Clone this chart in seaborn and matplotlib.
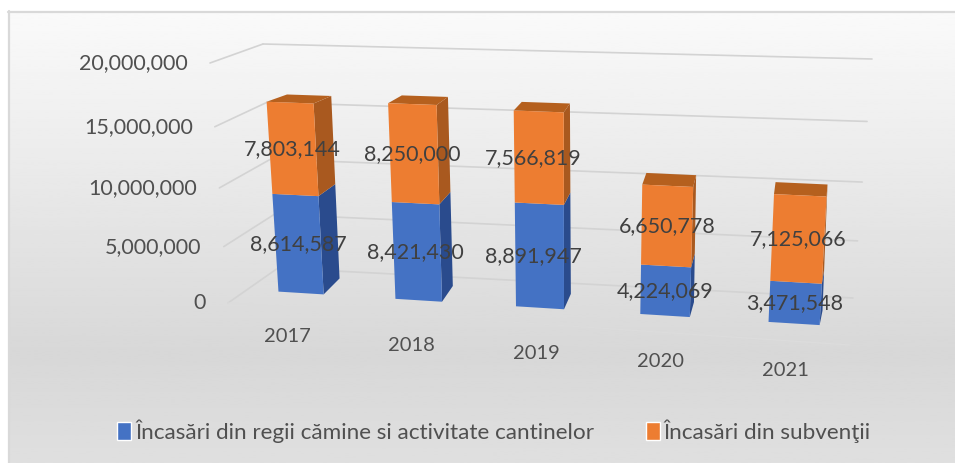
import numpy as np
import pandas as pd
import matplotlib
matplotlib.use("Agg")
import matplotlib.pyplot as plt
import seaborn as sns
from matplotlib.patches import Patch, Polygon
from matplotlib.transforms import Affine2D, Transform

years = ["2017", "2018", "2019", "2020", "2021"]
regii = [8614587, 8421430, 8891947, 4224069, 3471548]
subventii = [7803144, 8250000, 7566819, 6650778, 7125066]
y_ticks = [0, 5000000, 10000000, 15000000, 20000000]
legend_labels = ["Încasări din regii cămine si activitate cantinelor", "Încasări din subvenţii"]

BLUE, ORANGE = "#4472C4", "#ED7D31"
BLUE_SIDE, ORANGE_SIDE, ORANGE_TOP = "#2A4B8D", "#A9591F", "#B5601E"
TEXT, TEXT_SOFT = "#404040", "#505050"
BAR_WIDTH = 0.39
W, H = 955, 463


class Plane(Transform):
    """Perspective view of one flat plane of the chart, (category, value) to pixels."""

    input_dims = 2
    output_dims = 2
    is_separable = False

    def __init__(self, points, pixels):
        super().__init__()
        rows, target = [], []
        for (x, v), (px, py) in zip(points, pixels):
            v = v / 1e6
            rows.append([x, v, 1, 0, 0, 0, -px * x, -px * v])
            rows.append([0, 0, 0, x, v, 1, -py * x, -py * v])
            target += [px, py]
        self.h = np.append(np.linalg.solve(np.array(rows), np.array(target)), 1).reshape(3, 3)

    def transform_non_affine(self, values):
        values = np.asarray(values, dtype=float)
        full = np.column_stack([values[:, 0], values[:, 1] / 1e6, np.ones(len(values))])
        out = full @ self.h.T
        return out[:, :2] / out[:, 2:]


def corners(left, right):
    return [(left, 0), (left, 2e7), (right, 0), (right, 2e7)]


# pixels run downwards in the reference, flip them for the display
to_display = Affine2D().scale(1, -1).translate(0, H)

front = Plane(corners(0, 4), [(301, 293), (287.5, 59), (794, 323.5), (806, 75.5)])
back = Plane(corners(0, 4), [(318, 277), (307, 54), (797, 309), (805.5, 67)])
wall = Plane(corners(-0.5, 4.5), [(278, 268), (263, 44), (853, 298), (872, 59)])
edge = Plane(corners(-0.5, 4.5), [(228, 303), (210, 63), (850, 345), (885, 110)])
year_row = Plane(corners(0, 4), [(287, 337), (287, 237), (785, 370), (785, 270)])

sns.set_theme(style="white")
plt.rcParams["font.family"] = ["Lato", "DejaVu Sans"]

fig = plt.figure(figsize=(W / 100, H / 100), dpi=100, facecolor="white")

# background of the chart area, light at the top, darker near the legend
bg = fig.add_axes([9 / W, 0, 1 - 9 / W, 1 - 12 / H])
bg.imshow(np.interp(np.linspace(0, 1, 200), [0, 0.76, 1], [0.98, 0.845, 0.875]).reshape(-1, 1),
          cmap="gray", vmin=0, vmax=1, aspect="auto")
bg.set_axis_off()
fig.add_artist(plt.Line2D([9 / W, 9 / W], [0, 1 - 11 / H], color="#d9d9d9", lw=1.6))
fig.add_artist(plt.Line2D([8 / W, 1], [1 - 12 / H, 1 - 12 / H], color="#d9d9d9", lw=1.6))

ax = fig.add_axes([0, 0, 1, 1], facecolor="none")
df = pd.DataFrame({"an": years, "regii": regii, "subventii": subventii})
sns.barplot(data=df, x="an", y="regii", color=BLUE, width=BAR_WIDTH, saturation=1, ax=ax)
sns.barplot(data=df, x="an", y="subventii", bottom=df["regii"], color=ORANGE, width=BAR_WIDTH,
            saturation=1, ax=ax)
ax.set_axis_off()

for patch in ax.patches:
    patch.set_transform(front + to_display)
    patch.set_linewidth(0)
    patch.set_zorder(3)


def face(points, color):
    """Adds one side or top face of a bar, each point being (plane, category, value)."""
    xy = [plane.transform_non_affine(np.array([[x, v]]))[0] for plane, x, v in points]
    ax.add_patch(Polygon(xy, closed=True, facecolor=color, edgecolor="none",
                         transform=to_display, zorder=2))


# the value labels of the middle bars are a little left of centre in the reference
label_shift = [0, -2, -6, 0, 0]

for i in range(len(years)):
    left, right = i - BAR_WIDTH / 2, i + BAR_WIDTH / 2
    total = regii[i] + subventii[i]
    face([(front, right, 0), (back, right, 0), (back, right, regii[i]), (front, right, regii[i])], BLUE_SIDE)
    face([(front, right, regii[i]), (back, right, regii[i]), (back, right, total), (front, right, total)], ORANGE_SIDE)
    face([(front, left, total), (back, left, total), (back, right, total), (front, right, total)], ORANGE_TOP)

    # value labels sit in the middle of each segment
    shifted = front + to_display + Affine2D().translate(label_shift[i], 0)
    ax.text(i, regii[i] / 2, f"{regii[i]:,}", transform=shifted, ha="center", va="center",
            color=TEXT, fontsize=15.5, zorder=5)
    ax.text(i, regii[i] + subventii[i] / 2, f"{subventii[i]:,}", transform=shifted,
            ha="center", va="center", color=TEXT, fontsize=15.5, zorder=5)
    ax.text(i, 0, years[i], transform=year_row + to_display, ha="center", va="center",
            color=TEXT_SOFT, fontsize=14.5)

# gridlines on the back wall and the left wall
for tick in y_ticks:
    ax.plot([-0.5, 4.5], [tick, tick], transform=wall + to_display, color="#d3d3d3", lw=1.2, zorder=1)
    ends = [plane.transform_non_affine(np.array([[-0.5, tick]]))[0] for plane in (wall, edge)]
    ax.plot([ends[0][0], ends[1][0]], [ends[0][1], ends[1][1]], transform=to_display,
            color="#d3d3d3", lw=1.2, zorder=1)
    ax.text(-0.5, tick, f"{tick:,}", transform=edge + to_display + Affine2D().translate(-22, 0),
            ha="right", va="center", color=TEXT_SOFT, fontsize=15.5)
ax.plot([-0.5, 4.5], [0, 0], transform=edge + to_display, color="#dcdcdc", lw=1, zorder=1)

ax.set_xlim(-1, 5)
ax.set_ylim(0, 2e7)

handles = [Patch(facecolor=BLUE, label=legend_labels[0]), Patch(facecolor=ORANGE, label=legend_labels[1])]
ax.legend(handles=handles, loc="center left", bbox_to_anchor=(117 / W, 1 - 431 / H), ncol=2, frameon=False,
          fontsize=16.2, labelcolor=TEXT_SOFT, handlelength=0.62, handleheight=0.85, handletextpad=0.18,
          columnspacing=2.3, borderpad=0, borderaxespad=0)

fig.savefig("out.png", dpi=100)
